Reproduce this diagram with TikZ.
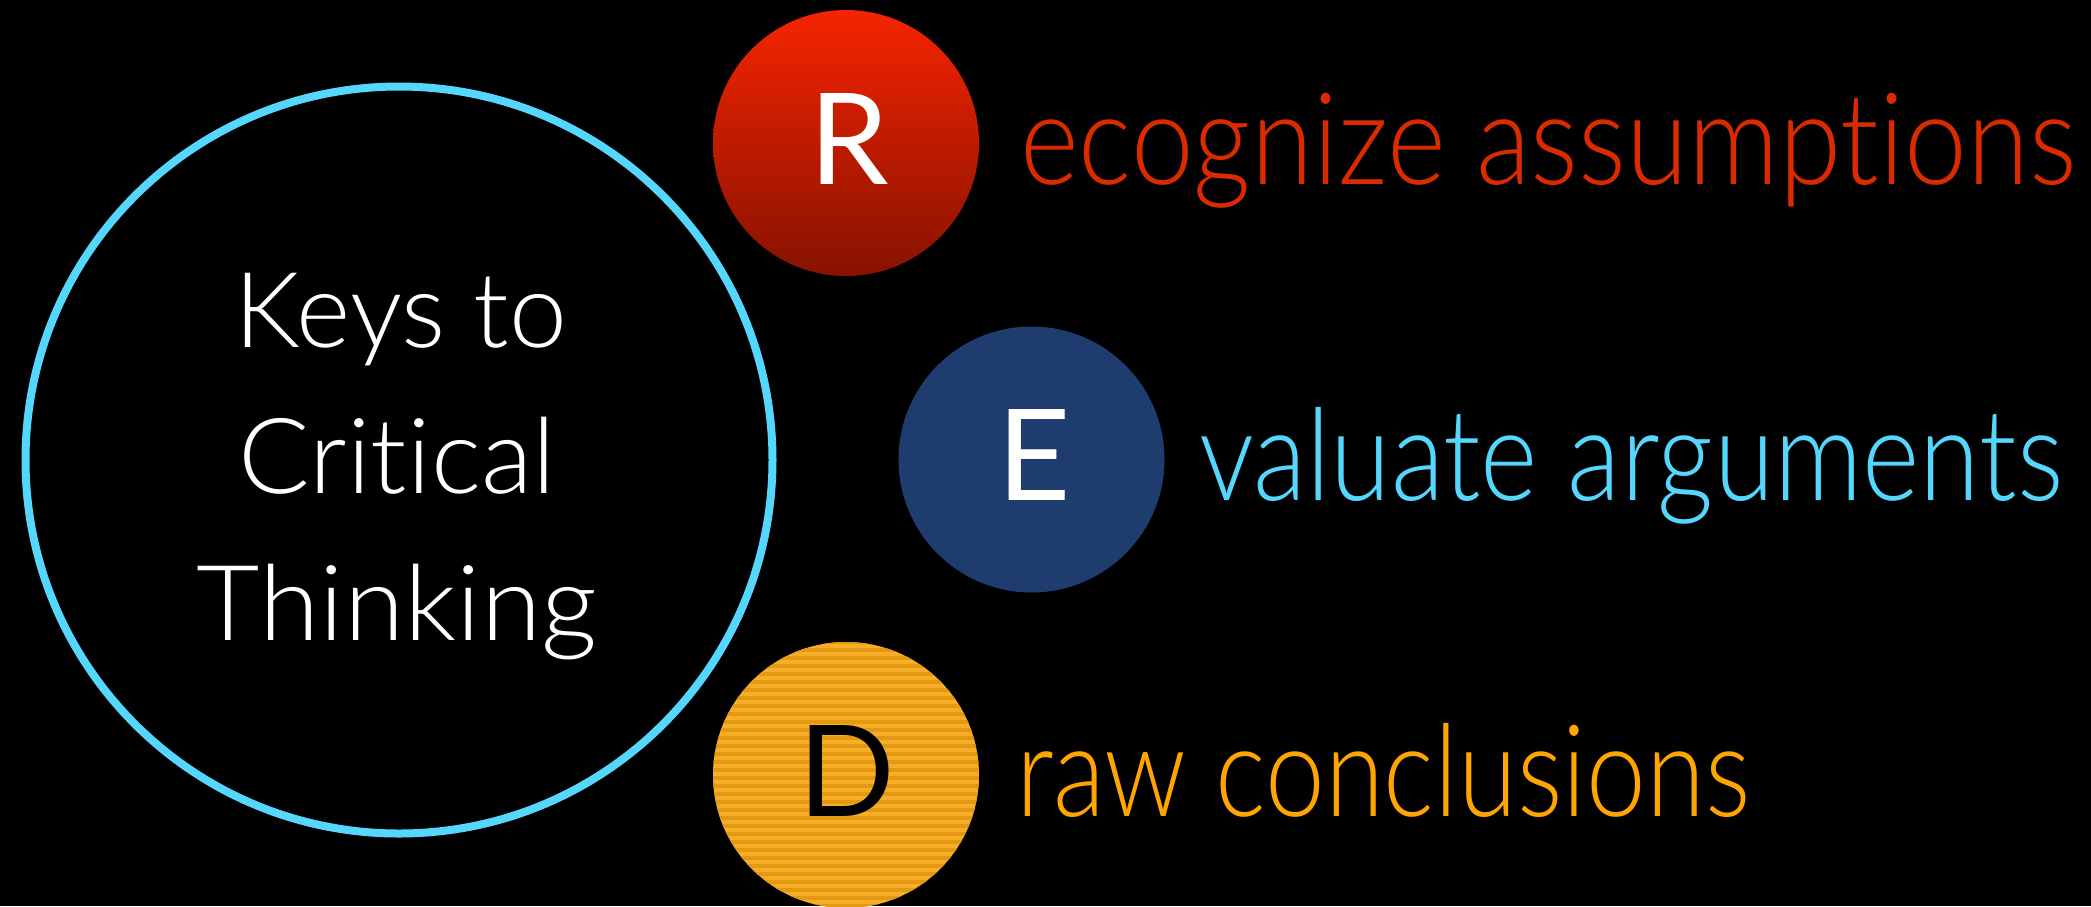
\documentclass[tikz,border=0pt]{standalone}
\usepackage{fontspec}
\usepackage{graphicx}
\setmainfont{Lato}[UprightFont=* Light, Ligatures={NoCommon,NoRare,NoDiscretionary,NoContextual}]
\newfontfamily\letterfont{Lato}[Ligatures={NoCommon,NoRare,NoDiscretionary,NoContextual}]
\definecolor{ringcyan}{HTML}{55D6FC}
\definecolor{rtop}{HTML}{F62400}
\definecolor{rbot}{HTML}{861200}
\definecolor{rtext}{HTML}{DA2A00}
\definecolor{eblue}{HTML}{1F3C6E}
\definecolor{dlight}{HTML}{F7AD28}
\definecolor{ddark}{HTML}{E39A12}
\definecolor{dtext}{HTML}{FFA500}
\tikzset{
  keyring/.style={circle, draw=ringcyan, line width=8pt, minimum size=747pt, inner sep=0pt},
  disc/.style={circle, minimum size=266pt, inner sep=0pt},
  bigletter/.style={font=\letterfont\fontsize{127}{150}\selectfont, inner sep=0pt, anchor=base},
  sidetext/.style={font=\fontsize{128}{150}\selectfont, inner sep=0pt, anchor=base west},
  centertext/.style={font=\fontsize{105}{130}\selectfont, text=white, inner sep=0pt, anchor=base}
}
\begin{document}
\begin{tikzpicture}[x=1pt,y=-1pt]
\useasboundingbox (0,0) rectangle (2091,906);
\fill[black] (0,0) rectangle (2091,906);
% central ring
\node[keyring] (keys) at (399,460) {};
\node[centertext] (l1) at (401,347) {\resizebox{332pt}{\height}{Keys to}};
\node[centertext] (l2) at (397,493) {\resizebox{317pt}{\height}{Critical}};
\node[centertext] (l3) at (397,640) {\resizebox{400pt}{\height}{Thinking}};
% R
\node[disc, top color=rtop, bottom color=rbot] (R) at (846,143) {};
\node[bigletter, text=white] (Rl) at (849,184) {R};
\node[sidetext, text=rtext] (Rt) at (1020,184) {\resizebox{1056pt}{\height}{ecognize assumptions}};
% E
\node[disc, fill=eblue] (E) at (1031.5,459.5) {};
\node[bigletter, text=white] (El) at (1034,500) {E};
\node[sidetext, text=ringcyan] (Et) at (1199,500) {\resizebox{864pt}{\height}{valuate arguments}};
% D
\node[disc, fill=dlight] (D) at (846,775) {};
\begin{scope}
  \clip (D.center) circle[radius=133pt];
  \foreach \k in {0,...,36} {
    \draw[ddark, line width=3.5pt] (700,{642+8*\k}) -- (1000,{642+8*\k});
  }
\end{scope}
\node[bigletter, text=black] (Dl) at (847,816) {D};
\node[sidetext, text=dtext] (Dt) at (1016,816) {\resizebox{734pt}{\height}{raw conclusions}};
\end{tikzpicture}
\end{document}
